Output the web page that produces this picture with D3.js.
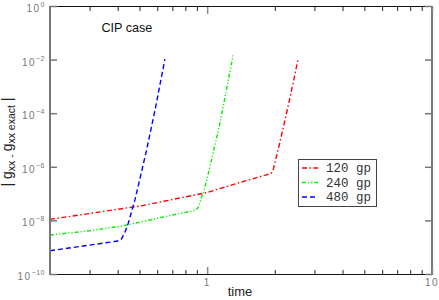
<!DOCTYPE html>
<html><head><meta charset="utf-8">
<script src="https://cdn.jsdelivr.net/npm/d3@7"></script>
<style>html,body{margin:0;padding:0;background:#fff;}svg{display:block;}</style>
</head><body>
<script>
// ---- data ----
const redT   = [0.2, 0.3, 0.4, 0.5, 0.7, 1.0, 1.4, 1.8, 1.93, 1.97, 2.0, 2.1, 2.25, 2.4, 2.54];
const redV   = [1.1e-8, 1.8e-8, 2.6e-8, 3.4e-8, 6.0e-8, 1.1e-7, 2.6e-7, 4.8e-7, 5.8e-7, 8.3e-7, 1.4e-6, 7.4e-6, 9.3e-5, 1.1e-3, 1.1e-2];
const greenT = [0.2, 0.3, 0.42, 0.6, 0.8, 0.89, 0.915, 0.945, 0.96, 1.0, 1.14, 1.305];
const greenV = [2.85e-9, 4.1e-9, 6.2e-9, 1.2e-8, 2.0e-8, 2.4e-8, 3.2e-8, 7.6e-8, 1.0e-7, 3.7e-7, 4.2e-5, 1.5e-2];
const blueT  = [0.2, 0.3, 0.4, 0.415, 0.43, 0.4457, 0.4773, 0.538, 0.59, 0.6487];
const blueV  = [7.4e-10, 1.2e-9, 1.7e-9, 2.0e-9, 3.5e-9, 7.8e-9, 5.8e-8, 4.3e-6, 1.7e-4, 1.05e-2];
const seriesNames = ["120 gp", "240 gp", "480 gp"];
const yTickExps = [0, -2, -4, -6, -8, -10];
const xMajor = [1, 10];
const xMinor = [0.3,0.4,0.5,0.6,0.7,0.8,0.9,2,3,4,5,6,7,8,9];

const W = 439, H = 300;
const L = 50, R = 432, T = 6, B = 274;
const svg = d3.select("body").append("svg").attr("width", W).attr("height", H);

const x = d3.scaleLog().domain([0.2, 10]).range([L, R]);
const y = d3.scaleLog().domain([1e-10, 1]).range([B, T]);

const styles = [
  {color: "#ff0000", dash: "5,2.5,1.5,2.5"},
  {color: "#00f000", dash: "4,2,1.2,2,1.2,2"},
  {color: "#0000ff", dash: "5,3"}
];
const series = [
  {name: seriesNames[0], t: redT, v: redV, s: styles[0]},
  {name: seriesNames[1], t: greenT, v: greenV, s: styles[1]},
  {name: seriesNames[2], t: blueT, v: blueV, s: styles[2]}
];

svg.append("clipPath").attr("id","clip").append("rect").attr("x",L).attr("y",T).attr("width",R-L).attr("height",B-T);

const line = d3.line().x(d => x(d[0])).y(d => y(d[1]));
const plot = svg.append("g").attr("clip-path","url(#clip)");
series.forEach(sr => {
  plot.append("path")
    .datum(sr.t.map((t,i) => [t, sr.v[i]]))
    .attr("d", line)
    .attr("fill","none")
    .attr("stroke", sr.s.color)
    .attr("stroke-width", 1.4)
    .attr("stroke-dasharray", sr.s.dash);
});

// frame
const fr = svg.append("g");
fr.append("line").attr("x1",L).attr("x2",R).attr("y1",T+0.5).attr("y2",T+0.5).attr("stroke","#111").attr("stroke-width",1);
fr.append("line").attr("x1",L).attr("x2",R).attr("y1",B+0.5).attr("y2",B+0.5).attr("stroke","#111").attr("stroke-width",1);
fr.append("line").attr("x1",L).attr("x2",L).attr("y1",T).attr("y2",B+1).attr("stroke","#777").attr("stroke-width",2);
fr.append("line").attr("x1",R).attr("x2",R).attr("y1",T).attr("y2",B+1).attr("stroke","#777").attr("stroke-width",2);

const mk = (axisGen, tr) => {
  const g = svg.append("g").attr("transform", tr).call(axisGen);
  g.select(".domain").remove();
  return g;
};
const xb1 = mk(d3.axisBottom(x).tickValues(xMajor).tickSize(-7).tickFormat(() => ""), `translate(0,${B})`);
const xb2 = mk(d3.axisBottom(x).tickValues(xMinor).tickSize(-4).tickFormat(() => ""), `translate(0,${B})`);
const xt1 = mk(d3.axisTop(x).tickValues(xMajor).tickSize(-7).tickFormat(() => ""), `translate(0,${T+1})`);
const xt2 = mk(d3.axisTop(x).tickValues(xMinor).tickSize(-4).tickFormat(() => ""), `translate(0,${T+1})`);
[xb1, xt1].forEach(g => g.selectAll(".tick line").attr("stroke","#888").attr("stroke-width",1.5));
[xb2, xt2].forEach(g => g.selectAll(".tick line").attr("stroke","#222").attr("stroke-width",1));

const yVals = yTickExps.map(e => Math.pow(10, e));
const yl = mk(d3.axisLeft(y).tickValues(yVals).tickSize(-7).tickFormat(() => ""), `translate(${L},0)`);
const yr = mk(d3.axisRight(y).tickValues(yVals).tickSize(-7).tickFormat(() => ""), `translate(${R},0)`);
[yl, yr].forEach(g => g.selectAll(".tick line").attr("stroke","#777").attr("stroke-width",1.5));

const lblFont = "'Liberation Sans', Arial, sans-serif";
yTickExps.forEach(e => {
  const t = svg.append("text")
    .attr("x", 45).attr("y", y(Math.pow(10, e)) + 6)
    .attr("text-anchor","end")
    .attr("font-family", lblFont).attr("fill","#777")
    .attr("font-size", 10).attr("letter-spacing", 1.5);
  t.append("tspan").text("10");
  t.append("tspan").attr("font-size", 7).attr("dy", -5).attr("letter-spacing", 0.5).text(e === 0 ? "0" : "\u2212" + (-e));
});
xMajor.forEach(v => {
  svg.append("text").attr("x", x(v)).attr("y", B + 12)
    .attr("text-anchor","middle").attr("font-family", lblFont).attr("fill","#777")
    .attr("font-size", 10).attr("letter-spacing", 1.5).text(String(v));
});

svg.append("text").attr("x", 240).attr("y", 296).attr("text-anchor","middle")
  .attr("font-family", lblFont).attr("font-size", 13).attr("fill","#222").text("time");

const yt = svg.append("text").attr("transform", `translate(11.5,142) rotate(-90)`)
  .attr("text-anchor","middle").attr("font-family", lblFont).attr("font-size", 14).attr("fill","#222");
yt.append("tspan").text("| g");
yt.append("tspan").attr("font-size", 10.5).attr("dy", 3).text("xx - ");
yt.append("tspan").attr("dy", -3).text("g");
yt.append("tspan").attr("font-size", 10.5).attr("dy", 3).text("xx exact");
yt.append("tspan").attr("dy", -3).text(" |");

svg.append("text").attr("x", 101.5).attr("y", 32).attr("font-family", lblFont)
  .attr("font-size", 12.6).attr("fill","#111").text("CIP case");

const lg = svg.append("g");
lg.append("rect").attr("x", 298.5).attr("y", 159.5).attr("width", 78).attr("height", 47)
  .attr("fill","#fff").attr("stroke","#444").attr("stroke-width",1);
const legY = [168, 182.5, 197];
series.forEach((sr, i) => {
  lg.append("line").attr("x1", 302).attr("x2", 318).attr("y1", legY[i]).attr("y2", legY[i])
    .attr("stroke", sr.s.color).attr("stroke-width", 1.4).attr("stroke-dasharray", sr.s.dash);
  lg.append("text").attr("x", 326).attr("y", legY[i] + 4)
    .attr("font-family","'Liberation Mono', 'DejaVu Sans Mono', monospace")
    .attr("font-size", 12.5).attr("fill","#333").text(sr.name);
});
</script>
</body></html>
